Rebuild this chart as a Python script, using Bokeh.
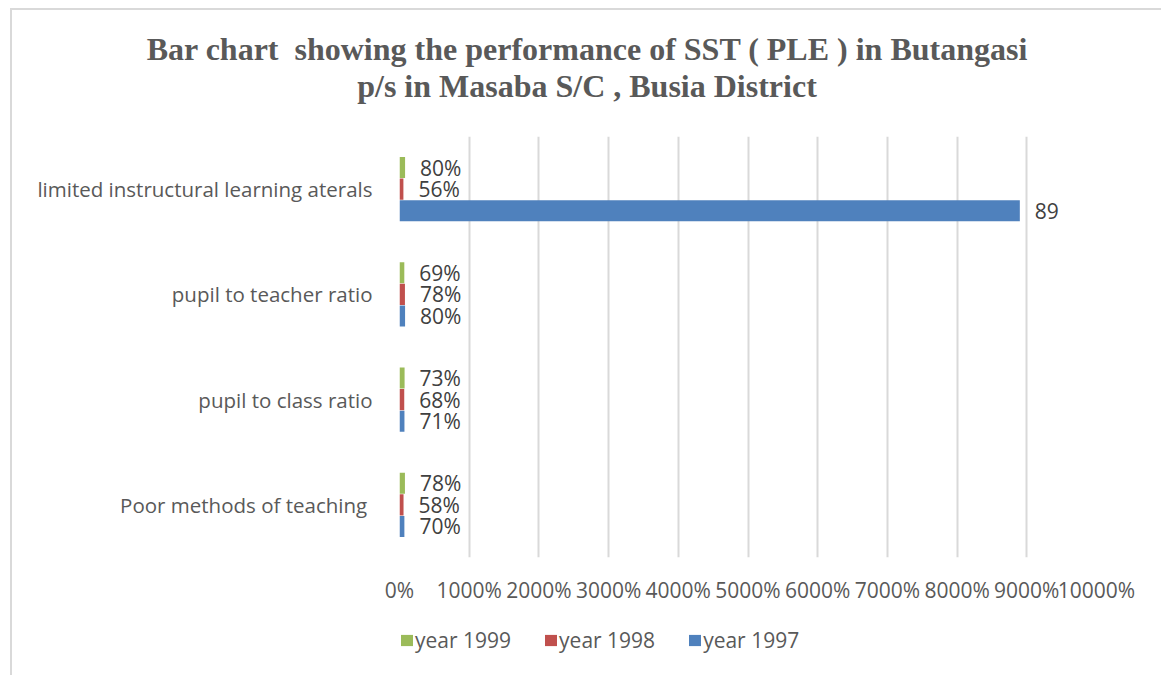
from bokeh.plotting import figure
from bokeh.layouts import column
from bokeh.models import (ColumnDataSource, FactorRange, FixedTicker, NumeralTickFormatter,
                          Legend, LegendItem, Div, Range1d)
from bokeh.transform import dodge
from bokeh.core.properties import value
from bokeh.embed import file_html
from bokeh.resources import INLINE

# ---- data (bottom to top) ----
categories = ["Poor methods  of teaching", "pupil to class ratio",
              "pupil to teacher ratio", "limited instructural learning aterals"]
year_1997 = [0.70, 0.71, 0.80, 89]
year_1998 = [0.58, 0.68, 0.78, 0.56]
year_1999 = [0.78, 0.73, 0.69, 0.80]
labels_1997 = ["70%", "71%", "80%", "89"]
labels_1998 = ["58%", "68%", "78%", "56%"]
labels_1999 = ["78%", "73%", "69%", "80%"]
series_names = ["year 1999", "year 1998", "year 1997"]
x_ticks = [0, 10, 20, 30, 40, 50, 60, 70, 80, 90, 100]
title_lines = ["Bar chart&nbsp; showing the performance of SST ( PLE ) in Butangasi",
               "p/s in Masaba S/C , Busia District"]

colors = {"year 1999": "#9BBB59", "year 1998": "#C0504D", "year 1997": "#4F81BD"}
offsets = {"year 1999": 0.205, "year 1998": 0.0, "year 1997": -0.205}
values = {"year 1999": year_1999, "year 1998": year_1998, "year 1997": year_1997}
labels = {"year 1999": labels_1999, "year 1998": labels_1998, "year 1997": labels_1997}

FONT = "Open Sans"
GREY = "#595959"

title_div = Div(
    text=("<div style=\"font-family:'Liberation Serif';font-weight:bold;font-size:32px;"
          "color:#595959;text-align:center;line-height:37px;padding-top:31px;"
          "box-sizing:border-box;padding-left:13px;width:1161px;\">"
          + "<br>".join(title_lines) + "</div>"),
    width=1161, height=100, margin=0)

p = figure(width=1161, height=515, y_range=FactorRange(factors=categories),
           x_range=(0, 100), output_backend="svg", toolbar_location=None,
           min_border_left=399, min_border_right=65, min_border_top=36,
           min_border_bottom=58, margin=0)
p.outline_line_color = None
p.background_fill_color = "white"
p.border_fill_color = None

p.xgrid.ticker = FixedTicker(ticks=x_ticks)
p.xgrid.grid_line_color = "#d9d9d9"
p.xgrid.grid_line_width = 2
p.ygrid.grid_line_color = None

p.xaxis.ticker = FixedTicker(ticks=x_ticks)
p.xaxis.formatter = NumeralTickFormatter(format="0%")
for ax in (p.xaxis[0], p.yaxis[0]):
    ax.axis_line_color = None
    ax.major_tick_line_color = None
    ax.minor_tick_line_color = None
    ax.major_label_text_font = FONT
    ax.major_label_text_color = GREY
p.xaxis.major_label_text_font_size = "21px"
p.yaxis.major_label_text_font_size = "20.5px"
p.xaxis.major_label_standoff = 12
p.yaxis.major_label_standoff = 21

# legend lives in its own strip below the chart
lg = figure(width=1161, height=60, x_range=Range1d(0, 1), y_range=Range1d(0, 1),
            x_axis_type=None, y_axis_type=None, output_backend="svg",
            toolbar_location=None, min_border=0, margin=0)
lg.outline_line_color = None
lg.background_fill_color = None
lg.border_fill_color = None

items = []
for name in series_names:
    src = ColumnDataSource(dict(cat=categories, val=values[name], lab=labels[name]))
    yd = dodge("cat", offsets[name], range=p.y_range)
    p.hbar(y=yd, right="val", left=0, height=0.2, source=src,
           fill_color=colors[name], line_color=None)
    p.text(x="val", y=yd, text="lab", source=src, x_offset=15,
           text_align="left", text_baseline="middle",
           text_font=value(FONT), text_font_size="21px", text_color="#404040")
    # hidden key renderer for the legend strip (only its swatch is shown)
    sw = lg.hbar(y="val", right="val", height=0.2, source=src, visible=False,
                 fill_color=colors[name], line_color=None)
    items.append(LegendItem(label=name, renderers=[sw]))

legend = Legend(items=items, orientation="horizontal", location=(0, 21),
                glyph_width=15, glyph_height=14, label_standoff=1, spacing=32,
                label_text_font=FONT, label_text_font_size="21px",
                label_text_color=GREY, padding=0, margin=0,
                inactive_fill_alpha=0,
                border_line_color=None, background_fill_alpha=0)
lg.add_layout(legend, "center")

border_bg = ("linear-gradient(#d9d9d9,#d9d9d9) 10px 8px / 2px 100% no-repeat, "
             "linear-gradient(#d9d9d9,#d9d9d9) 10px 8px / 100% 2px no-repeat, white")
layout = column(title_div, p, lg, spacing=0, margin=0,
                styles={"background": border_bg})
open("out.html", "w").write(file_html(layout, INLINE))
